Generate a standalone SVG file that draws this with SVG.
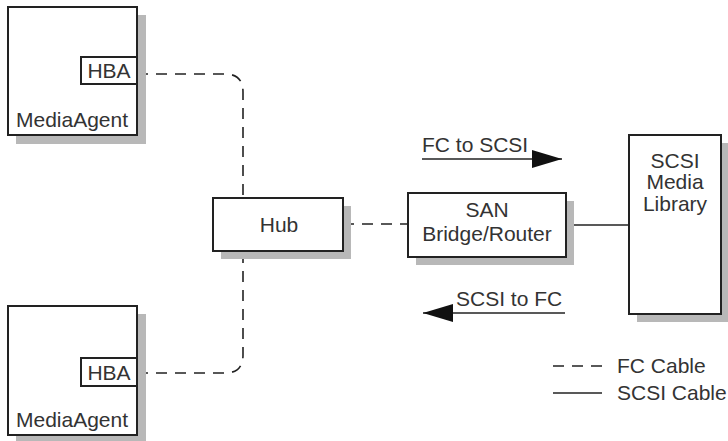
<svg xmlns="http://www.w3.org/2000/svg" width="728" height="441" viewBox="0 0 728 441">
<defs>
<style>
.box{fill:#fff;stroke:#222;stroke-width:2}
.shadow{fill:#b8b8b8}
.t{font-family:"Liberation Sans",Arial,sans-serif;font-size:21px;fill:#333}
.fc{fill:none;stroke:#222;stroke-width:1.6;stroke-dasharray:11,8}
.scsi{fill:none;stroke:#222;stroke-width:1.6}
</style>
<marker id="ah" viewBox="0 0 30 18" refX="30" refY="9" markerWidth="30" markerHeight="18" markerUnits="userSpaceOnUse" orient="auto">
<path d="M0,0 L30,9 L0,18 Z" fill="#111"/>
</marker>
</defs>
<g id="connectors">
<path class="fc" d="M137,74 H225 Q243,74 243,92 V198"/>
<path class="fc" d="M137,373 H225 Q243,373 243,355 V251"/>
<path class="fc" d="M343,224 H408"/>
<path class="scsi" d="M566,225 H629"/>
</g>
<g id="mediaagent-top">
<rect class="shadow" x="16" y="15" width="130" height="129"/>
<rect class="box" x="8" y="7" width="129" height="128"/>
<rect class="box" x="81" y="57" width="56" height="27"/>
<text class="t" x="109" y="78" text-anchor="middle">HBA</text>
<text class="t" x="72" y="127" text-anchor="middle">MediaAgent</text>
</g>
<g id="mediaagent-bottom">
<rect class="shadow" x="16" y="314" width="130" height="129"/>
<rect class="box" x="8" y="306" width="129" height="129"/>
<rect class="box" x="81" y="358" width="56" height="28"/>
<text class="t" x="109" y="380" text-anchor="middle">HBA</text>
<text class="t" x="72" y="427" text-anchor="middle">MediaAgent</text>
</g>
<g id="hub">
<rect class="shadow" x="221" y="206" width="130" height="53"/>
<rect class="box" x="213" y="198" width="130" height="53"/>
<text class="t" x="279" y="232" text-anchor="middle">Hub</text>
</g>
<g id="san">
<rect class="shadow" x="416" y="201" width="158" height="64"/>
<rect class="box" x="408" y="193" width="158" height="64"/>
<text class="t" x="487" y="217" text-anchor="middle">SAN</text>
<text class="t" x="487" y="241" text-anchor="middle">Bridge/Router</text>
</g>
<g id="library">
<rect class="shadow" x="637" y="143" width="92" height="179"/>
<rect class="box" x="629" y="135" width="92" height="179"/>
<text class="t" x="675" y="168" text-anchor="middle">SCSI</text>
<text class="t" x="675" y="189" text-anchor="middle">Media</text>
<text class="t" x="675" y="211" text-anchor="middle">Library</text>
</g>
<g id="flow-labels">
<text class="t" x="422" y="152">FC to SCSI</text>
<path class="scsi" d="M422,159 H562" marker-end="url(#ah)"/>
<text class="t" x="456" y="306">SCSI to FC</text>
<path class="scsi" d="M565,313 H423" marker-end="url(#ah)"/>
</g>
<g id="legend">
<path class="fc" d="M553,366 H602" stroke-dasharray="7,9"/>
<text class="t" x="617" y="373">FC Cable</text>
<path class="scsi" d="M553,393 H602"/>
<text class="t" x="617" y="400">SCSI Cable</text>
</g>
</svg>
